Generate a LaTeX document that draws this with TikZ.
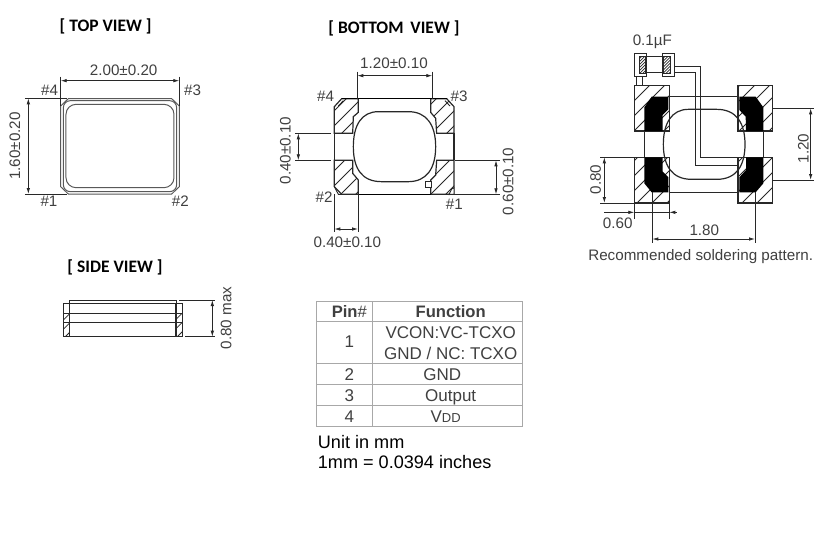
\documentclass[tikz,border=0pt]{standalone}
\usepackage{fontspec}
\setmainfont{Liberation Sans}
\newfontfamily\titlefont{Carlito}
\usetikzlibrary{arrows.meta}
\definecolor{ink}{HTML}{282828}
\definecolor{dimtext}{HTML}{404040}
\definecolor{tablegrid}{HTML}{A8A8A8}
\tikzset{
  zoomA/.style={shift={(0,10)},x=0.33333pt,y=-0.33333pt},
  zoomB/.style={shift={(270,10)},x=0.33333pt,y=-0.33333pt},
  zoomC/.style={shift={(580,20)},x=0.33333pt,y=-0.33333pt},
  zoomD/.style={shift={(40,250)},x=0.33333pt,y=-0.33333pt},
  zoomE/.style={shift={(305,295)},x=0.33333pt,y=-0.33333pt},
  dimtxt/.style={font=\fontsize{15.2}{17}\selectfont,text=dimtext,inner sep=0pt,text height=10.5pt,text depth=0pt},
  titletxt/.style={font=\fontsize{17.5}{20}\selectfont\titlefont\bfseries,text=black,inner sep=0pt},
  tabtxt/.style={font=\fontsize{17}{18}\selectfont,text=dimtext,inner sep=0pt,text height=11.5pt,text depth=0pt},
  tabhead/.style={font=\fontsize{16.6}{18}\selectfont,text=dimtext,inner sep=0pt,text height=11.5pt,text depth=0pt},
  unittxt/.style={font=\fontsize{18.1}{20}\selectfont,text=black,inner sep=0pt,text height=12.5pt,text depth=0pt,anchor=west},
  dimline/.style={draw=ink,line width=0.8pt,{Latex[length=6pt,width=3.5pt]}-{Latex[length=6pt,width=3.5pt]}},
  extline/.style={draw=ink,line width=0.8pt},
  thin part/.style={draw=ink,line width=0.9pt},
  case line/.style={draw=black!65,line width=1pt},
  pad edge/.style={draw=ink,line width=1.2pt},
  heavy part/.style={draw=black,line width=1.4pt},
  hatchline/.style={draw=ink,line width=0.8pt},
  densehatch/.style={draw=ink,line width=0.7pt},
  tabline/.style={draw=tablegrid,line width=0.8pt},
}
\newcommand{\hatchpoly}[2]{%
  \begin{scope}
    \clip #1;
    \foreach \k in {0,#2,...,1500}{\draw[hatchline] (\k,0) -- (\k-1000,1000);}
  \end{scope}}
\begin{document}
\begin{tikzpicture}[x=1pt,y=-1pt]
\useasboundingbox (0,0) rectangle (835,539);
\fill[white] (0,0) rectangle (835,539);

% ---------- TOP VIEW
\begin{scope}[zoomA]
\node[titletxt] (ttop) at (317,50) {[ TOP VIEW ]};
\draw[case line] (182,288) -- (205,266) -- (515,266) -- (538,288)
  -- (538,530) -- (515,552) -- (205,552) -- (182,530) -- cycle;
\draw[case line,rounded corners=7pt] (190,272) rectangle (530,545);
\draw[case line,rounded corners=10pt] (198,283) rectangle (522,533);
\coordinate (ta) at (182,212); \coordinate (tb) at (538,212);
\draw[extline] (182,200) -- (182,288) (538,200) -- (538,288);
\draw[dimline] (ta) -- (tb);
\coordinate (tc) at (85,265); \coordinate (td) at (85,552);
\draw[extline] (75,265) -- (200,265) (75,552) -- (200,552);
\draw[dimline] (tc) -- (td);
\node[dimtxt] (tw) at (371,182) {2.00±0.20};
\node[dimtxt,rotate=90] (th) at (45,408) {1.60±0.20};
\node[dimtxt] (t4) at (149,241) {\#4};
\node[dimtxt] (t3) at (578,241) {\#3};
\node[dimtxt] (t1) at (147,575) {\#1};
\node[dimtxt] (t2) at (541,575) {\#2};
\end{scope}

% ---------- BOTTOM VIEW
\begin{scope}[zoomB]
\node[titletxt] (tbot) at (372,55) {[ BOTTOM\, VIEW ]};
\def\padTL{(193,290) -- (215,266) -- (265,266) -- (265,307) -- (250,320) -- (248,370) -- (193,370) -- cycle}
\def\padTR{(482,266) -- (530,266) -- (552,290) -- (552,370) -- (500,370) -- (497,325) -- (482,307) -- cycle}
\def\padBL{(193,451) -- (248,451) -- (248,490) -- (265,510) -- (265,553) -- (215,553) -- (193,530) -- cycle}
\def\padBR{(500,451) -- (552,451) -- (552,553) -- (482,553) -- (482,510) -- (497,495) -- cycle}
\hatchpoly{\padTL}{45}
\hatchpoly{\padTR}{45}
\hatchpoly{\padBL}{45}
\hatchpoly{\padBR}{45}
\draw[pad edge] \padTL; \draw[pad edge] \padTR;
\draw[pad edge] \padBL; \draw[pad edge] \padBR;
\draw[thin part] (205,288) -- (220,272) (540,288) -- (525,272);
\draw[heavy part] (215,266) -- (530,266);
\draw[heavy part] (265,553) -- (482,553);
\draw[pad edge] (193,370) -- (193,451) (552,370) -- (552,451);
\draw[thin part] (193,530) -- (205,553) -- (215,553);
\draw[thin part,fill=white] (535,553) to[out=-80,in=170] (552,533) -- (552,553) -- cycle;
\draw[thin part,fill=white] (466,513) rectangle (484,533);
\draw[pad edge] (375,305) -- (325,305) .. controls (275,305) and (250,345) .. (250,410)
  .. controls (250,475) and (275,515) .. (335,515) -- (415,515) .. controls (470,515) and (497,475) .. (497,410)
  .. controls (497,345) and (470,305) .. (415,305) -- cycle;
\coordinate (ba) at (262,197); \coordinate (bb) at (487,197);
\draw[extline] (262,185) -- (262,266) (487,185) -- (487,266);
\draw[dimline] (ba) -- (bb);
\coordinate (bc) at (85,370); \coordinate (bd) at (85,451);
\draw[extline] (75,370) -- (182,370) (75,451) -- (182,451);
\draw[dimline] (bc) -- (bd);
\coordinate (be) at (678,451); \coordinate (bf) at (678,553);
\draw[extline] (555,451) -- (690,451) (552,553) -- (690,553);
\draw[dimline] (be) -- (bf);
\coordinate (bg) at (193,657); \coordinate (bh) at (264,657);
\draw[extline] (193,553) -- (193,665) (264,553) -- (264,665);
\draw[dimline] (bg) -- (bh);
\node[dimtxt] (bw) at (372,160) {1.20±0.10};
\node[dimtxt,rotate=90] (bl) at (46,422) {0.40±0.10};
\node[dimtxt,rotate=90] (br) at (714,514) {0.60±0.10};
\node[dimtxt] (bs) at (232,698) {0.40±0.10};
\node[dimtxt] (b4) at (167,258) {\#4};
\node[dimtxt] (b3) at (567,258) {\#3};
\node[dimtxt] (b2) at (162,563) {\#2};
\node[dimtxt] (b1) at (553,583) {\#1};
\end{scope}

% ---------- SOLDERING PATTERN
\begin{scope}[zoomC]
\def\landTL{(163,196) rectangle (268,333)}
\def\landTR{(474,196) rectangle (577,333)}
\def\landBL{(163,412) rectangle (268,549)}
\def\landBR{(474,412) rectangle (577,549)}
\hatchpoly{\landTL}{45}
\hatchpoly{\landTR}{45}
\hatchpoly{\landBL}{45}
\hatchpoly{\landBR}{45}
\draw[pad edge] \landTL; \draw[pad edge] \landTR;
\draw[pad edge] \landBL; \draw[pad edge] \landBR;
\fill[black] (193,262) -- (215,230) -- (265,230) -- (265,268) -- (248,285) -- (248,333) -- (193,333) -- cycle;
\fill[black] (478,230) -- (527,230) -- (550,262) -- (550,333) -- (498,333) -- (497,290) -- (478,270) -- cycle;
\fill[black] (193,412) -- (248,412) -- (248,455) -- (265,472) -- (265,517) -- (215,517) -- (193,490) -- cycle;
\fill[black] (498,412) -- (550,412) -- (550,490) -- (527,517) -- (478,517) -- (478,472) -- (498,450) -- cycle;
\draw[thin part] (268,230) -- (474,230) (268,517) -- (474,517) (193,333) -- (193,412) (550,333) -- (550,412);
\draw[pad edge] (375,268) -- (325,268) .. controls (275,268) and (250,310) .. (250,373)
  .. controls (250,436) and (275,478) .. (335,478) -- (410,478) .. controls (470,478) and (495,436) .. (495,373)
  .. controls (495,310) and (470,268) .. (410,268) -- cycle;
\draw[thin part] (284,140) -- (362,140) -- (362,413) -- (478,413);
\draw[thin part] (284,157) -- (345,157) -- (345,436) -- (478,436);
\draw[thin part] (168,170) -- (168,196) (186,170) -- (186,196);
% capacitor
\draw[thin part] (163,100) rectangle (200,170);
\draw[thin part] (247,100) rectangle (284,170);
\draw[thin part] (200,110) -- (247,110) (200,157) -- (247,157);
\begin{scope}
  \clip (178,108) rectangle (195,160);
  \foreach \k in {150,159,...,420}{\draw[densehatch] (\k,0) -- (\k-300,300);}
\end{scope}
\begin{scope}
  \clip (250,108) rectangle (272,160);
  \foreach \k in {220,229,...,490}{\draw[densehatch] (\k,0) -- (\k-300,300);}
\end{scope}
\draw[thin part] (178,108) rectangle (195,160);
\draw[thin part] (250,108) rectangle (272,160);
\coordinate (sa) at (692,265); \coordinate (sb) at (692,480);
\draw[extline] (580,265) -- (702,265) (580,480) -- (702,480);
\draw[dimline] (sa) -- (sb);
\coordinate (sc) at (73,412); \coordinate (sd) at (73,549);
\draw[extline] (60,412) -- (163,412) (60,549) -- (163,549);
\draw[dimline] (sc) -- (sd);
\coordinate (se) at (163,577); \coordinate (sf) at (268,577);
\draw[extline] (163,549) -- (163,597) (268,549) -- (268,597);
\draw[extline,-{Latex[length=6pt,width=3.5pt]}] (72,577) -- (se);
\draw[extline,-{Latex[length=6pt,width=3.5pt]}] (290,577) -- (sf);
\draw[extline] (se) -- (sf);
\coordinate (sg) at (217,657); \coordinate (sh) at (525,657);
\draw[extline] (217,517) -- (217,668) (525,517) -- (525,668);
\draw[dimline] (sg) -- (sh);
\node[dimtxt] (scap) at (217,62) {0.1µF};
\node[dimtxt,rotate=90] (s120) at (670,385) {1.20};
\node[dimtxt,rotate=90] (s080) at (47,478) {0.80};
\node[dimtxt] (s060) at (113,610) {0.60};
\node[dimtxt] (s180) at (373,632) {1.80};
\node[dimtxt] (srec) at (362,705) {Recommended soldering pattern.};
\end{scope}

% ---------- SIDE VIEW
\begin{scope}[zoomD]
\node[titletxt] (tside) at (225,52) {[ SIDE VIEW ]};
\def\hatchL{(70,190) rectangle (88,260)}
\def\hatchR{(408,190) rectangle (428,260)}
\hatchpoly{\hatchL}{28}
\hatchpoly{\hatchR}{28}
\draw[thin part] (88,160) -- (88,150) -- (408,150) -- (408,160);
\draw[pad edge] (70,160) rectangle (428,260);
\draw[pad edge] (88,160) -- (88,260) (408,160) -- (408,260);
\draw[thin part] (70,190) -- (428,190) (70,218) -- (428,218);
\coordinate (sva) at (517,150); \coordinate (svb) at (517,260);
\draw[extline] (418,150) -- (525,150) (435,260) -- (525,260);
\draw[dimline] (sva) -- (svb);
\node[dimtxt,rotate=90] (svl) at (558,204) {0.80 max};
\end{scope}

% ---------- TABLE
\begin{scope}[zoomE]
\draw[tabline] (35,20) rectangle (653,393);
\draw[tabline] (202,20) -- (202,393);
\draw[tabline] (35,78) -- (653,78) (35,204) -- (653,204) (35,268) -- (653,268) (35,331) -- (653,331);
\node[tabhead] (hp) at (133,50) {\textbf{Pin}\#};
\node[tabhead] (hf) at (437,50) {\textbf{Function}};
\node[tabtxt] (p1) at (133,141) {1};
\node[tabtxt] (f1a) at (437,114) {VCON:VC-TCXO};
\node[tabtxt] (f1b) at (437,176) {GND / NC: TCXO};
\node[tabtxt] (p2) at (133,238) {2};
\node[tabtxt] (f2) at (412,238) {GND};
\node[tabtxt] (p3) at (133,301) {3};
\node[tabtxt] (f3) at (437,301) {Output};
\node[tabtxt] (p4) at (133,364) {4};
\node[tabtxt] (f4) at (422,364) {V{\fontsize{13}{14}\selectfont DD}};
\node[unittxt] (u1) at (38,443) {Unit in mm};
\node[unittxt] (u2) at (38,503) {1mm = 0.0394 inches};
\end{scope}
\end{tikzpicture}
\end{document}
